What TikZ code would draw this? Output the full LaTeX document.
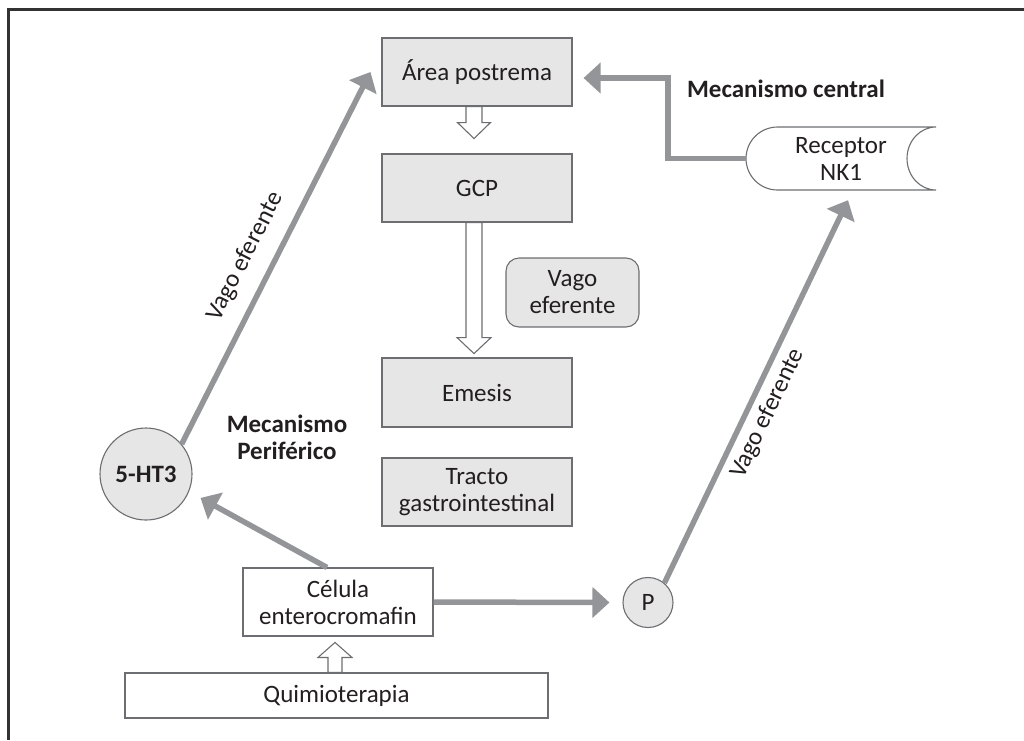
\documentclass[tikz,border=0pt]{standalone}
\usepackage{fontspec}
\setmainfont{Carlito}
\usetikzlibrary{arrows.meta,calc}
\definecolor{boxfill}{HTML}{E6E6E7}
\definecolor{boxline}{HTML}{6D6E71}
\definecolor{arrgray}{HTML}{939598}
\definecolor{txt}{HTML}{231F20}
\begin{document}
\begin{tikzpicture}[x=1pt,y=-1pt,
  every node/.style={text=txt,font=\fontsize{25}{27}\selectfont},
  graybox/.style={draw=boxline,line width=1.1pt,fill=boxfill,minimum width=190pt,minimum height=68pt,inner sep=0pt,align=center},
  whitebox/.style={draw=boxline,line width=1.1pt,fill=white,minimum width=190pt,minimum height=68pt,inner sep=0pt,align=center},
  disc/.style={circle,draw=boxline,line width=1.1pt,fill=boxfill,inner sep=0pt},
  garrow/.style={draw=arrgray,line width=5.5pt,-{Triangle[length=17pt,width=30pt]}},
  hollow/.style={draw=boxline,line width=1.1pt,fill=white,line join=miter},
  lbl/.style={font=\fontsize{25}{27}\selectfont,inner sep=0pt},
  bold/.style={font=\fontsize{25}{27}\selectfont\bfseries,align=center}
]
\useasboundingbox (0,0) rectangle (1024,740);
% frame
\draw[line width=2.5pt,black!80] (8.5,740) -- (8.5,9.5) -- (1024,9.5);

% nodes
\node[graybox] (ap) at (477,72) {Área postrema};
\node[graybox] (gcp) at (477,188) {GCP};
\node[graybox,minimum height=69pt] (em) at (477,392.5) {Emesis};
\node[graybox] (tr) at (477,492) {Tracto\\gastrointestinal};
\node[graybox,minimum width=133pt,minimum height=69pt,rounded corners=13pt] (vg) at (572.5,292.5) {Vago\\eferente};
\node[whitebox] (cel) at (338,602) {Célula\\enterocromafin};
\node[whitebox,minimum width=423pt,minimum height=45pt] (qu) at (336.5,695.5) {Quimioterapia};
\node[disc,minimum size=92pt,font=\fontsize{25}{27}\selectfont\bfseries] (c5) at (146,474) {5-HT3};
\node[disc,minimum size=50pt] (p) at (648,602.5) {P};

% receptor NK1 shape
\draw[draw=boxline,line width=1.1pt,fill=white] (777.5,127) arc[start angle=270,end angle=90,radius=31.5] -- (936,190) arc[start angle=90,end angle=270,x radius=29,y radius=31.5] -- cycle;
\node[minimum width=190pt,minimum height=63pt,inner sep=0pt,align=center] (nk) at (841,158.5) {Receptor\\NK1};

% bold labels
\node[bold] (mc) at (786,89) {Mecanismo central};
\node[bold] (mp) at (287,437.5) {Mecanismo\\Periférico};

% hollow block arrows
\draw[hollow] ($(ap.south)+(-11,0)$) -- ++(0,16) -- ++(-8.5,0) -- ++(16.5,16) -- ++(16.5,-16) -- ++(-8.5,0) -- ++(0,-16) -- cycle;
\draw[hollow] ($(gcp.south)+(-11,0)$) -- ++(0,115) -- ++(-9,0) -- ++(17,16) -- ++(17,-16) -- ++(-9,0) -- ++(0,-115) -- cycle;
\draw[hollow] ($(qu.north)+(-8.5,0)$) -- ++(0,-15) -- ++(-10,0) -- ++(17,-15) -- ++(17,15) -- ++(-10,0) -- ++(0,15) -- cycle;

% gray connectors
\coordinate (apin) at ($(ap.west)+(-11,0)$);
\coordinate (nkin) at ($(nk.south)+(7,10)$);
\draw[garrow] (c5.40) -- (apin);
\draw[garrow] (p.50) -- (nkin);
\draw[garrow] ($(cel.north)+(-11,0)$) -- ($(c5.-24)+(12,5)$);
\draw[garrow] (cel.east) -- ($(p.west)+(-13,0)$);
\draw[garrow] (nk.west) -- ++(-78,0) |- ($(ap.east)+(11,6)$);

% sloped labels
\node[lbl,rotate=63] (v1) at ($(c5.40)!0.47!(apin)!28pt!90:(apin)$) {Vago eferente};
\node[lbl,rotate=64.3] (v2) at ($(p.50)!0.465!(nkin)!20pt!-90:(nkin)$) {Vago eferente};
\end{tikzpicture}
\end{document}
